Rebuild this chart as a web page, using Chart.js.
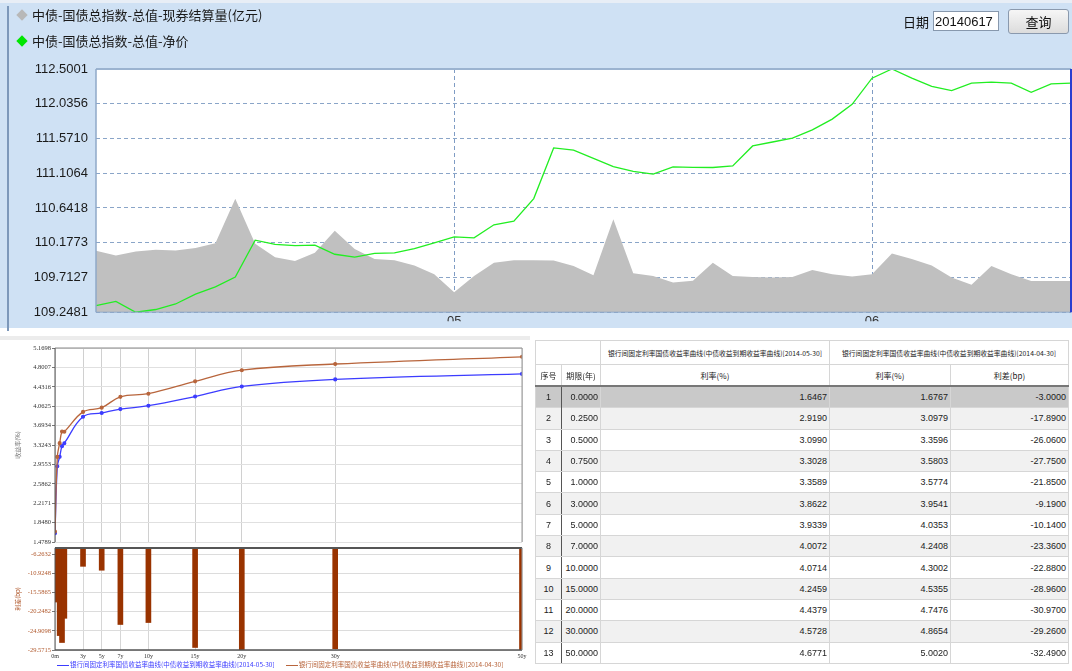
<!DOCTYPE html>
<html>
<head>
<meta charset="utf-8">
<script src="https://cdn.jsdelivr.net/npm/chart.js@4.4.0/dist/chart.umd.min.js"></script>
<style>
body{margin:0;width:1072px;height:671px;position:relative;background:#fff;overflow:hidden;font-family:Arial,"Noto Sans CJK SC",sans-serif}
#top{position:absolute;left:0;top:0;width:1072px;height:328px;background:#cfe1f4;border-top:3px solid #e8eef6;box-sizing:border-box}
#topLine{position:absolute;left:7px;top:3px;width:2px;height:325px;background:#7d98ba}
#cTop{position:absolute;left:0;top:0}
.leg{position:absolute;left:32px;font-size:13px;color:#1a1a1a;font-family:"Noto Sans CJK SC",sans-serif;line-height:16px}
.dia{position:absolute;width:8px;height:8px;transform:rotate(45deg)}
#dateLbl{position:absolute;left:903px;top:12px;font-size:13px;font-family:"Noto Sans CJK SC",sans-serif;color:#111}
#dateBox{position:absolute;left:933px;top:11px;width:66px;height:20px;background:#fff;border:1px solid #8798ad;font:13px Arial;line-height:20px;padding-left:1px;box-sizing:border-box;color:#111}
#btn{position:absolute;left:1008px;top:9px;width:61px;height:25px;border:1px solid #8a99ad;border-radius:3px;background:linear-gradient(#f6f6f6,#dcdcdc);font-size:13px;font-family:"Noto Sans CJK SC",sans-serif;text-align:center;line-height:23px;box-sizing:border-box;color:#111}
#blTop{position:absolute;left:0;top:336px;width:530px;height:4px;background:#ececec}
#cUp{position:absolute;left:0;top:340px}
#cLow{position:absolute;left:0;top:543px}
#legBL{position:absolute;left:57px;top:659px;font-size:6.5px;font-family:"Noto Sans CJK SC",sans-serif;white-space:nowrap}
#legBL span.ln{display:inline-block;width:12px;height:1px;vertical-align:middle;margin-right:1px}
#tbl{position:absolute;left:535px;top:340px;border-collapse:collapse;table-layout:fixed;font-family:"Liberation Sans Narrow","Liberation Sans",sans-serif;font-size:9px;color:#222}
#tbl td{border:1px solid #d6d6d6;padding:0 2px;white-space:nowrap;overflow:hidden}
#tbl .h1 td{height:23px;text-align:center;font-family:"Noto Sans CJK SC",sans-serif;font-size:6.8px;background:#fff}
#tbl .h2 td{height:20px;text-align:center;font-family:"Noto Sans CJK SC",sans-serif;font-size:8px;border-bottom:2px solid #777;background:#fff}
#tbl tr.d td{height:20.3px;text-align:right}
#tbl tr.d td.no{text-align:center;border-right:1px solid #555}
#tbl tr.d:nth-child(even) td{background:#f1f1f1}
#tbl tr.sel td{background:#c9c9c9 !important;border-top:1px dashed #666;border-bottom:1px dashed #666}
</style>
</head>
<body>
<div id="top">
  <div id="topLine"></div>
</div>
<canvas id="cTop" width="1072" height="328"></canvas>
<div class="dia" style="left:18px;top:11px;background:#b8b8b8"></div>
<div class="leg" style="top:7px">中债-国债总指数-总值-现券结算量(亿元)</div>
<div class="dia" style="left:18px;top:37px;background:#00e600"></div>
<div class="leg" style="top:33px">中债-国债总指数-总值-净价</div>
<div id="dateLbl">日期</div>
<div id="dateBox">20140617</div>
<div id="btn">查询</div>

<div id="blTop"></div>
<canvas id="cLow" width="530" height="128"></canvas>
<canvas id="cUp" width="530" height="210"></canvas>
<div id="legBL"></div>
<table id="tbl"></table>

<script>
// top chart: 中债-国债总指数 (net price) + settlement volume
const netPrice = [109.336, 109.393, 109.248, 109.284, 109.358, 109.489, 109.586, 109.717, 110.211, 110.154,
    110.137, 110.146, 110.023, 109.984, 110.036, 110.041, 110.098, 110.176, 110.255, 110.242,
    110.417, 110.465, 110.767, 111.445, 111.414, 111.305, 111.196, 111.130, 111.095, 111.191,
    111.185, 111.183, 111.204, 111.471, 111.524, 111.576, 111.686, 111.830, 112.027, 112.377,
    112.500, 112.377, 112.268, 112.211, 112.311, 112.324, 112.311, 112.189, 112.302, 112.311];
const volume = [25.3, 23.3, 25.0, 25.7, 25.4, 26.4, 28.4, 46.6, 28.1, 22.6,
    21.1, 24.4, 33.5, 26.0, 21.9, 21.4, 19.2, 15.6, 8.2, 14.9,
    20.3, 21.4, 21.4, 21.3, 19.0, 15.2, 38.2, 16.0, 14.9, 12.2,
    12.9, 20.3, 14.9, 14.5, 14.3, 14.5, 17.4, 15.6, 14.7, 15.6,
    24.1, 21.9, 19.2, 14.3, 11.3, 19.0, 15.6, 12.8, 12.8, 12.8];
const monthTicks = {18: '05', 39: '06'};
const priceTicks = [109.2481, 109.7127, 110.1773, 110.6418, 111.1064, 111.5710, 112.0356, 112.5001];

// yield curves
const tenors = [0, 0.25, 0.5, 0.75, 1, 3, 5, 7, 10, 15, 20, 30, 50];
const yieldMay = [1.6467, 2.9190, 3.0990, 3.3028, 3.3589, 3.8622, 3.9339, 4.0072, 4.0714, 4.2459, 4.4379, 4.5728, 4.6771];
const yieldApr = [1.6767, 3.0979, 3.3596, 3.5803, 3.5774, 3.9541, 4.0353, 4.2408, 4.3002, 4.5355, 4.7476, 4.8654, 5.0020];
const spreadBp = [-3.0000, -17.8900, -26.0600, -27.7500, -21.8500, -9.1900, -10.1400, -23.3600, -22.8800, -28.9600, -30.9700, -29.2600, -32.4900];
const tenorTicks = [0, 3, 5, 7, 10, 15, 20, 30, 50];
const tenorTickLabels = ['0m', '3y', '5y', '7y', '10y', '15y', '20y', '30y', '50y'];
const yieldTicks = [1.4789, 1.8480, 2.2171, 2.5862, 2.9553, 3.3243, 3.6934, 4.0625, 4.4316, 4.8007, 5.1698];
const spreadTicks = [-29.5715, -24.9098, -20.2482, -15.5865, -10.9248, -6.2632];

const curveNameMay = '银行间固定利率国债收益率曲线(中债收益到期收益率曲线)[2014-05-30]';
const curveNameApr = '银行间固定利率国债收益率曲线(中债收益到期收益率曲线)[2014-04-30]';

const BLUE = '#3c3cff';
const BROWN = '#b8653c';
const BAR = '#993300';

// fills the plot area and strokes its edges
const framePlugin = {
    id: 'frame',
    beforeDraw(chart, args, opts) {
        const a = chart.chartArea, ctx = chart.ctx;
        if (opts.bg) {
            ctx.save();
            ctx.fillStyle = opts.bg;
            ctx.fillRect(a.left, a.top, a.right - a.left, a.bottom - a.top);
            ctx.restore();
        }
    },
    afterDatasetsDraw(chart, args, opts) {
        const a = chart.chartArea, ctx = chart.ctx;
        const edge = (c, w, x1, y1, x2, y2) => {
            if (!c) return;
            ctx.save();
            ctx.strokeStyle = c; ctx.lineWidth = w;
            ctx.beginPath(); ctx.moveTo(x1, y1); ctx.lineTo(x2, y2); ctx.stroke();
            ctx.restore();
        };
        edge(opts.top, opts.topW || 1, a.left, a.top, a.right, a.top);
        edge(opts.bottom, opts.bottomW || 1, a.left, a.bottom, a.right, a.bottom);
        edge(opts.left, opts.leftW || 1, a.left, a.top, a.left, a.bottom);
        edge(opts.right, opts.rightW || 1, a.right, a.top, a.right, a.bottom);
    }
};
Chart.register(framePlugin);

new Chart(document.getElementById('cTop'), {
    type: 'line',
    data: {
        labels: netPrice.map((_, i) => monthTicks[i] || ''),
        datasets: [{
            label: '中债-国债总指数-总值-净价',
            data: netPrice,
            yAxisID: 'y',
            borderColor: '#22ee22',
            borderWidth: 1.3,
            pointRadius: 0,
            tension: 0,
            order: 1
        }, {
            label: '中债-国债总指数-总值-现券结算量(亿元)',
            data: volume,
            yAxisID: 'y2',
            backgroundColor: '#c0c0c0',
            borderWidth: 0,
            fill: 'start',
            pointRadius: 0,
            tension: 0,
            order: 2
        }]
    },
    options: {
        responsive: false,
        animation: false,
        layout: {padding: {top: 69, right: 1, left: 0, bottom: 0}},
        plugins: {
            legend: {display: false},
            tooltip: {enabled: false},
            frame: {bg: '#fff', top: '#9bb3d0', topW: 2, left: '#8fa8c8', leftW: 1.5, bottom: '#8fa8c8', right: '#2a3fd0', rightW: 2}
        },
        scales: {
            x: {
                offset: false,
                border: {display: false, dash: [4, 3]},
                grid: {color: ctx => (ctx.tick && ctx.tick.label) ? '#7f9cc4' : 'transparent', drawTicks: false},
                ticks: {autoSkip: false, maxRotation: 0, padding: 1, font: {size: 13, family: 'Arial'}, color: '#333'},
                afterFit: s => { s.height = 9; }
            },
            y: {
                min: 109.2481,
                max: 112.5001,
                afterBuildTicks: s => { s.ticks = priceTicks.map(v => ({value: v})); },
                border: {display: false, dash: [4, 3]},
                grid: {color: '#8aa5c8', drawTicks: false},
                ticks: {callback: v => v.toFixed(4), font: {size: 13, family: 'Arial'}, color: '#1a1a1a', padding: 8},
                afterFit: s => { s.width = 96; }
            },
            y2: {display: false, min: 0, max: 100}
        }
    }
});

// lower chart: spread bars
new Chart(document.getElementById('cLow'), {
    type: 'bar',
    data: {
        datasets: [{
            label: '利差(bp)',
            data: tenors.map((t, i) => ({x: t, y: spreadBp[i]})),
            backgroundColor: BAR,
            barThickness: 5
        }]
    },
    options: {
        responsive: false,
        animation: false,
        layout: {padding: {top: 0, right: 8, left: 0, bottom: 0}},
        plugins: {
            legend: {display: false},
            tooltip: {enabled: false},
            frame: {top: '#555', topW: 2, bottom: '#555', bottomW: 1.5, left: '#555', right: '#999'}
        },
        scales: {
            x: {
                type: 'linear',
                offset: false,
                min: 0,
                max: 50,
                afterBuildTicks: s => { s.ticks = tenorTicks.map(v => ({value: v})); },
                border: {display: false},
                grid: {color: '#d6d6d6', drawTicks: false, offset: false},
                ticks: {callback: v => tenorTickLabels[tenorTicks.indexOf(v)], maxRotation: 0, autoSkip: false, padding: 3, font: {size: 6, family: 'Liberation Serif'}, color: '#333'},
                afterFit: s => { s.height = 21; }
            },
            y: {
                min: -29.5715,
                max: -4.7,
                afterBuildTicks: s => { s.ticks = spreadTicks.map(v => ({value: v})); },
                border: {display: false},
                grid: {color: '#dcdcdc', tickColor: '#777', tickLength: 3},
                title: {display: true, text: '利差(bp)', color: '#b0582c', font: {size: 6, family: 'Noto Sans CJK SC'}, padding: {top: 14, bottom: 0}},
                ticks: {callback: v => v.toFixed(4), font: {size: 6.5, family: 'Liberation Serif'}, color: '#b0582c', padding: 1},
                afterFit: s => { s.width = 55; }
            }
        }
    }
});

// upper chart: yield curves
new Chart(document.getElementById('cUp'), {
    type: 'line',
    data: {
        datasets: [{
            label: curveNameApr,
            data: tenors.map((t, i) => ({x: t, y: yieldApr[i]})),
            borderColor: BROWN,
            backgroundColor: BROWN,
            borderWidth: 1.3,
            pointRadius: 1.4,
            tension: 0.4
        }, {
            label: curveNameMay,
            data: tenors.map((t, i) => ({x: t, y: yieldMay[i]})),
            borderColor: BLUE,
            backgroundColor: BLUE,
            borderWidth: 1.3,
            pointRadius: 1.4,
            tension: 0.4
        }]
    },
    options: {
        responsive: false,
        animation: false,
        layout: {padding: {top: 8, right: 8, left: 0, bottom: 0}},
        plugins: {
            legend: {display: false},
            tooltip: {enabled: false},
            frame: {top: '#888', left: '#555', right: '#999'}
        },
        scales: {
            x: {
                type: 'linear',
                min: 0,
                max: 50,
                afterBuildTicks: s => { s.ticks = tenorTicks.map(v => ({value: v})); },
                border: {display: false},
                grid: {color: '#d0d0d0', drawTicks: false},
                ticks: {display: false},
                afterFit: s => { s.height = 8; }
            },
            y: {
                min: 1.4789,
                max: 5.1698,
                afterBuildTicks: s => { s.ticks = yieldTicks.map(v => ({value: v})); },
                border: {display: false},
                grid: {color: '#e0e0e0', tickColor: '#777', tickLength: 3},
                title: {display: true, text: '收益率(%)', color: '#777', font: {size: 6, family: 'Noto Sans CJK SC'}, padding: {top: 14, bottom: 0}},
                ticks: {callback: v => v.toFixed(4), font: {size: 6.5, family: 'Liberation Serif'}, color: '#333', padding: 1},
                afterFit: s => { s.width = 55; }
            }
        }
    }
});

// bottom legend
document.getElementById('legBL').innerHTML =
    `<span style="color:${BLUE}"><span class="ln" style="background:${BLUE}"></span>${curveNameMay}</span>` +
    `<span style="color:${BROWN};margin-left:11px"><span class="ln" style="background:${BROWN}"></span>${curveNameApr}</span>`;

// table
const colWidths = [26, 39, 229, 121, 118];
let html = '<colgroup>' + colWidths.map(w => `<col style="width:${w}px">`).join('') + '</colgroup>';
html += `<tr class="h1"><td colspan="2"></td><td>${curveNameMay}</td><td colspan="2">${curveNameApr}</td></tr>`;
html += '<tr class="h2"><td>序号</td><td>期限(年)</td><td>利率(%)</td><td>利率(%)</td><td>利差(bp)</td></tr>';
tenors.forEach((t, i) => {
    html += `<tr class="d${i === 0 ? ' sel' : ''}"><td class="no">${i + 1}</td><td>${t.toFixed(4)}</td>` +
        `<td>${yieldMay[i].toFixed(4)}</td><td>${yieldApr[i].toFixed(4)}</td><td>${spreadBp[i].toFixed(4)}</td></tr>`;
});
document.getElementById('tbl').innerHTML = html;
document.getElementById('tbl').style.width = colWidths.reduce((a, b) => a + b, 0) + 'px';
</script>
</body>
</html>
